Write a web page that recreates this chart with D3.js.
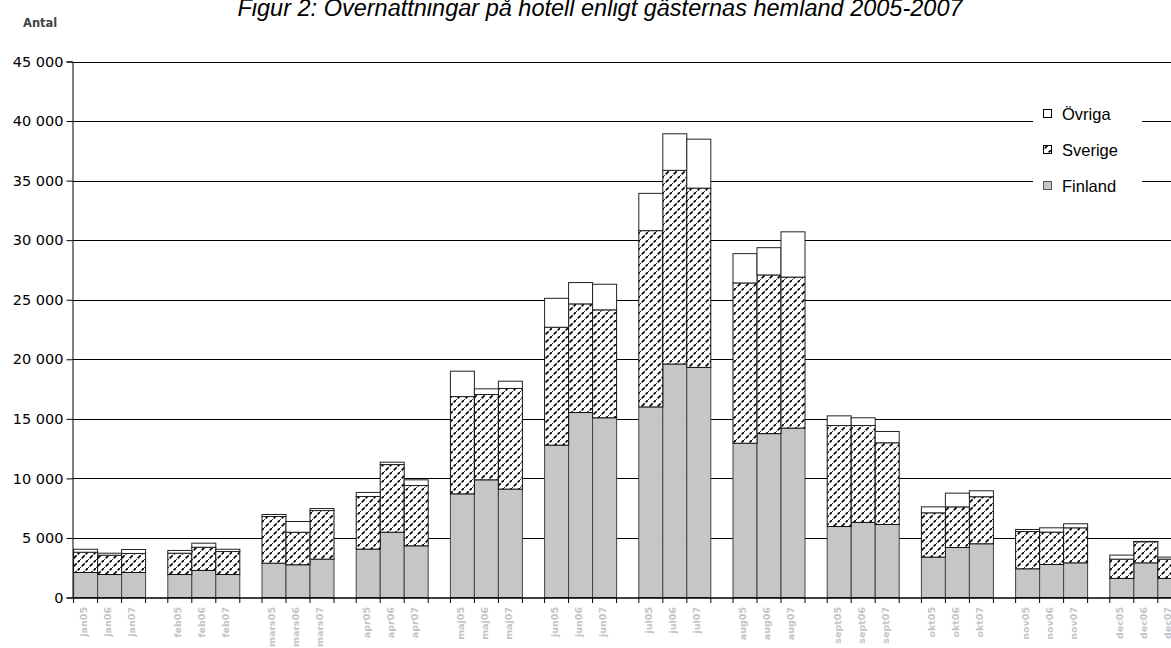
<!DOCTYPE html>
<html><head><meta charset="utf-8">
<script src="https://cdn.jsdelivr.net/npm/d3@7"></script>
<style>html,body{margin:0;padding:0;background:#fff;overflow:hidden}</style>
</head><body>
<svg id="c" width="1171" height="648"></svg>
<script>
const months = ["jan","feb","mars","apr","maj","jun","jul","aug","sept","okt","nov","dec"];
const years = ["05","06","07"];
const finland = [2100,1930,2100, 1930,2270,1930, 2880,2750,3220, 4060,5480,4340, 8700,9880,9100, 12790,15530,15090,
                 16000,19600,19320, 12950,13760,14220, 5960,6300,6130, 3390,4200,4510, 2410,2770,2910, 1600,2910,1600];
const sverige = [1700,1620,1600, 1790,1950,1930, 3920,2730,4080, 4420,5680,5060, 8170,7160,8450, 9900,9120,9060,
                 14800,16260,15050, 13460,13320,12680, 8480,8140,6860, 3720,3410,3950, 3130,2720,2940, 1620,1770,1620];
const ovriga  = [250,170,330, 230,340,190, 170,900,170, 340,200,480, 2130,480,610, 2430,1790,2150,
                 3130,3070,4110, 2460,2290,3800, 810,650,950, 500,1150,500, 170,360,340, 340,30,170];
const yTicks = [0,5000,10000,15000,20000,25000,30000,35000,40000,45000];
const seriesNames = ["Finland","Sverige","Övriga"];
const legendNames = ["Övriga","Sverige","Finland"];

const rows = [];
months.forEach((m,i)=>years.forEach((yr,j)=>{
  const k=i*3+j;
  rows.push({month:m, year:yr, label:m+yr, Finland:finland[k], Sverige:sverige[k], "Övriga":ovriga[k]});
}));

const svg = d3.select("#c");
const defs = svg.append("defs");
const pat = defs.append("pattern").attr("id","hatch").attr("patternUnits","userSpaceOnUse")
  .attr("width",8).attr("height",8);
pat.append("rect").attr("width",8).attr("height",8).attr("fill","#fff");
pat.append("path").attr("d","M-2,10 L10,-2")
  .attr("stroke","#000").attr("stroke-width",1.6).attr("stroke-dasharray","4.3,1.35")
  .attr("stroke-dashoffset",0.5);

const x0 = d3.scaleBand().domain(months).range([73.6,1181.8]).paddingInner(0.2357).paddingOuter(0).align(0);
const x1 = d3.scaleBand().domain(years).range([0,x0.bandwidth()]).padding(0);
const y = d3.scaleLinear().domain([0,45000]).range([597.5,61.5]);
const fmt = d3.formatLocale({thousands:"\u00a0",grouping:[3],decimal:",",currency:["",""]}).format(",");
const axisX = 72.5;

// gridlines
svg.append("g").selectAll("line").data(yTicks.filter(d=>d>0)).join("line")
  .attr("x1",axisX).attr("x2",1171)
  .attr("y1",d=>Math.round(y(d))+0.5).attr("y2",d=>Math.round(y(d))+0.5)
  .attr("stroke","#000").attr("stroke-width",1);

// bars
const stack = d3.stack().keys(seriesNames)(rows);
const fills = {"Finland":"#c6c6c6","Sverige":"url(#hatch)","Övriga":"#fff"};
const strokes = {"Finland":"#444","Sverige":"#111","Övriga":"#222"};
svg.append("g").selectAll("g").data(stack).join("g")
  .attr("fill",d=>fills[d.key]).attr("stroke",d=>strokes[d.key]).attr("stroke-width",1)
  .selectAll("rect").data(d=>d).join("rect")
  .attr("x",d=>x0(d.data.month)+x1(d.data.year))
  .attr("width",x1.bandwidth())
  .attr("y",d=>y(d[1])).attr("height",d=>y(d[0])-y(d[1]));

// y axis
const gy = svg.append("g").attr("transform",`translate(${axisX},0)`)
  .call(d3.axisLeft(y).tickValues(yTicks).tickFormat(fmt).tickSize(6).tickPadding(3));
gy.select(".domain").attr("stroke","#000");
gy.selectAll(".tick line").attr("stroke","#000");
gy.selectAll(".tick text").attr("font-family","DejaVu Sans").attr("font-size",14.5).attr("fill","#000");

// x axis
svg.append("line").attr("x1",axisX).attr("x2",1171).attr("y1",598).attr("y2",598)
  .attr("stroke","#000").attr("stroke-width",1.6);
const edges = [];
months.forEach(m=>{ years.forEach(yr=>edges.push(x0(m)+x1(yr))); edges.push(x0(m)+x0.bandwidth()); });
svg.append("g").selectAll("line").data(edges).join("line")
  .attr("x1",d=>d).attr("x2",d=>d).attr("y1",598).attr("y2",603)
  .attr("stroke","#000").attr("stroke-width",1);
svg.append("g").selectAll("text").data(rows).join("text")
  .attr("transform",d=>`translate(${x0(d.month)+x1(d.year)+x1.bandwidth()/2-2},607) rotate(-90)`)
  .attr("text-anchor","end").attr("dy","0.35em")
  .attr("font-family","DejaVu Sans").attr("font-size",9.5).attr("font-weight","bold")
  .attr("fill","#c4c4c4").text(d=>d.label);

// title and axis label
svg.append("text").attr("x",600).attr("y",16).attr("text-anchor","middle")
  .attr("font-family","Liberation Sans").attr("font-style","italic").attr("font-size",23.5)
  .text("Figur 2: Övernattningar på hotell enligt gästernas hemland 2005-2007");
svg.append("text").attr("x",23).attr("y",27).attr("font-family","DejaVu Sans").attr("font-weight","bold")
  .attr("font-size",11.5).attr("fill","#444").text("Antal");

// legend
const lg = svg.append("g");
lg.append("rect").attr("x",1033).attr("y",100).attr("width",109).attr("height",104).attr("fill","#fff");
const lfill = {"Övriga":"#fff","Sverige":"url(#hatch)","Finland":"#c6c6c6"};
const li = lg.selectAll("g").data(legendNames).join("g")
  .attr("transform",(d,i)=>`translate(1043,${114+i*36})`);
li.append("rect").attr("x",0.5).attr("y",-4.5).attr("width",8).attr("height",8)
  .attr("fill",d=>lfill[d]).attr("stroke",d=>d==="Finland"?"#555":"#000");
li.append("text").attr("x",19).attr("y",6).attr("font-family","Liberation Sans").attr("font-size",16.5)
  .attr("fill","#000").text(d=>d);
</script>
</body></html>
